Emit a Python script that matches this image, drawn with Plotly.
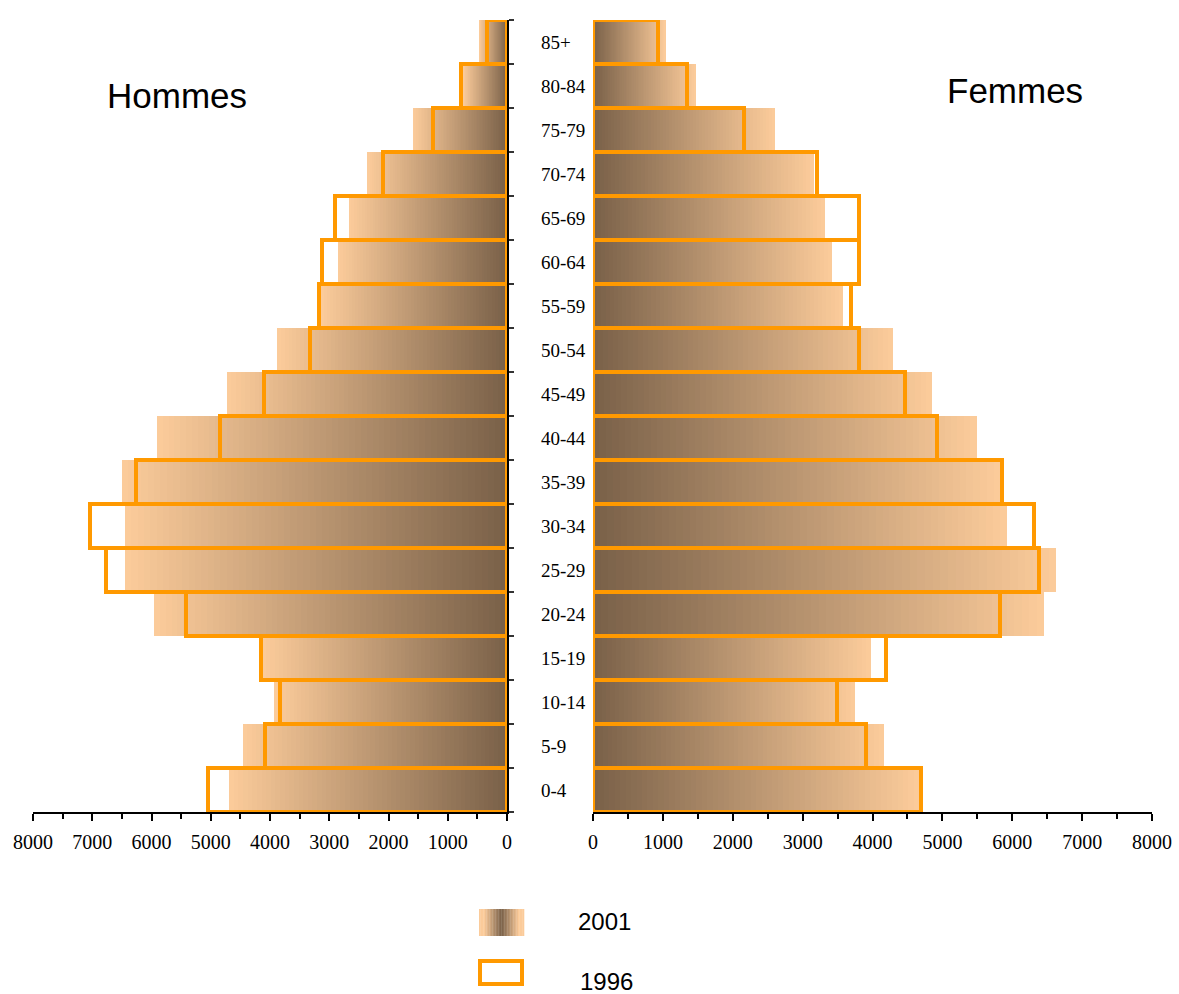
import plotly.graph_objects as go

# ---------------- data ----------------
ages = ["0-4", "5-9", "10-14", "15-19", "20-24", "25-29", "30-34", "35-39", "40-44",
        "45-49", "50-54", "55-59", "60-64", "65-69", "70-74", "75-79", "80-84", "85+"]
hommes_2001 = [4690, 4460, 3930, 4130, 5960, 6450, 6450, 6500, 5910,
               4730, 3880, 3140, 2860, 2670, 2360, 1590, 740, 470]
hommes_1996 = [5040, 4090, 3830, 4160, 5420, 6760, 7030, 6270, 4850,
               4100, 3330, 3170, 3130, 2900, 2100, 1250, 770, 340]
femmes_2001 = [4670, 4160, 3750, 3980, 6460, 6630, 5920, 5830, 5490,
               4850, 4290, 3580, 3420, 3320, 3160, 2600, 1470, 1040]
femmes_1996 = [4700, 3910, 3490, 4200, 5830, 6380, 6310, 5860, 4920,
               4460, 3810, 3690, 3810, 3810, 3200, 2160, 1350, 935]
tick_values = [0, 1000, 2000, 3000, 4000, 5000, 6000, 7000, 8000]
tick_labels = ["0", "1000", "2000", "3000", "4000", "5000", "6000", "7000", "8000"]
series_names = ["2001", "1996"]
panel_titles = ["Hommes", "Femmes"]

# ---------------- style ----------------
W, H = 1179, 994
PEACH = (251, 203, 154)
BROWN = (122, 97, 73)
ORANGE = "#FF9900"
SERIF = "Liberation Serif, Times New Roman, serif"
SANS = "Liberation Sans, Arial, sans-serif"
N_GRAD = 60


def mix(t):
    c = [round(PEACH[i] + (BROWN[i] - PEACH[i]) * t) for i in range(3)]
    return "rgb(%d,%d,%d)" % tuple(c)


ypos = list(range(len(ages)))
fig = go.Figure()

# gradient-filled 2001 bars: nested bars, longest = light, shortest = dark
for values, xa, ya in [(hommes_2001, "x", "y"), (femmes_2001, "x2", "y2")]:
    for k in range(N_GRAD):
        f = (N_GRAD - k) / N_GRAD
        fig.add_trace(go.Bar(
            x=[v * f for v in values], y=ypos, orientation="h",
            marker=dict(color=mix(k / (N_GRAD - 1)), line=dict(width=0)),
            xaxis=xa, yaxis=ya, showlegend=False, hoverinfo="skip"))

# 1996 outlined bars
for values, xa, ya in [(hommes_1996, "x", "y"), (femmes_1996, "x2", "y2")]:
    fig.add_trace(go.Bar(
        x=values, y=ypos, orientation="h",
        marker=dict(color="rgba(0,0,0,0)", line=dict(color=ORANGE, width=4)),
        xaxis=xa, yaxis=ya, showlegend=False, name="1996"))

ydom = [(H - 812) / H, (H - 20) / H]
xcommon = dict(showline=True, linecolor="black", linewidth=2,
               ticks="outside", ticklen=7, tickwidth=2, tickcolor="black",
               tickmode="array", tickvals=tick_values, ticktext=tick_labels,
               minor=dict(ticks="outside", dtick=500, tick0=0, ticklen=5,
                          tickwidth=2, tickcolor="black"),
               showgrid=False, zeroline=False, automargin=False,
               ticklabelstandoff=4,
               tickfont=dict(family=SERIF, size=20, color="black"))

fig.update_layout(
    width=W, height=H,
    margin=dict(l=0, r=0, t=0, b=0, autoexpand=False),
    paper_bgcolor="white", plot_bgcolor="white",
    barmode="overlay", bargap=0,
    showlegend=False,
    xaxis=dict(domain=[33 / W, 507 / W], range=[8000, 0], anchor="y", **xcommon),
    yaxis=dict(domain=ydom, range=[-0.5, len(ages) - 0.5], anchor="x", side="right",
               showline=True, linecolor="black", linewidth=2,
               ticks="outside", ticklen=5, tickwidth=2, tickcolor="#333",
               tickmode="array", tickvals=[i - 0.5 for i in range(len(ages) + 1)],
               showticklabels=False, showgrid=False, zeroline=False, automargin=False),
    xaxis2=dict(domain=[593 / W, 1152 / W], range=[0, 8000], anchor="y2", **xcommon),
    yaxis2=dict(domain=ydom, range=[-0.5, len(ages) - 0.5], anchor="x2",
                visible=False, showgrid=False, zeroline=False, automargin=False),
)

annotations = []
for i, a in enumerate(ages):
    annotations.append(dict(x=539 / W, xref="paper", y=i, yref="y", text=a,
                            showarrow=False, xanchor="left", yanchor="middle",
                            font=dict(family=SERIF, size=19, color="black")))
annotations.append(dict(x=105 / W, y=1 - 95 / H, xref="paper", yref="paper",
                        text=panel_titles[0], showarrow=False, xanchor="left",
                        yanchor="middle", font=dict(family=SANS, size=35, color="black")))
annotations.append(dict(x=945 / W, y=1 - 91 / H, xref="paper", yref="paper",
                        text=panel_titles[1], showarrow=False, xanchor="left",
                        yanchor="middle", font=dict(family=SANS, size=35, color="black")))
annotations.append(dict(x=576 / W, y=1 - 921 / H, xref="paper", yref="paper",
                        text=series_names[0], showarrow=False, xanchor="left",
                        yanchor="middle", font=dict(family=SANS, size=24, color="black")))
annotations.append(dict(x=578 / W, y=1 - 981 / H, xref="paper", yref="paper",
                        text=series_names[1], showarrow=False, xanchor="left",
                        yanchor="middle", font=dict(family=SANS, size=24, color="black")))

# legend swatches
shapes = []
sx0, sx1, sy0, sy1 = 479, 524, 909, 936
n_strip = 30
for j in range(n_strip):
    xa0 = sx0 + (sx1 - sx0) * j / n_strip
    xa1 = sx0 + (sx1 - sx0) * (j + 1) / n_strip
    centre = (j + 0.5) / n_strip
    t = max(0.0, 1 - abs(centre - 0.5) * 2.6)
    shapes.append(dict(type="rect", xref="paper", yref="paper",
                       x0=xa0 / W, x1=(xa1 + 0.3) / W, y0=1 - sy1 / H, y1=1 - sy0 / H,
                       fillcolor=mix(t), line=dict(width=0), layer="above"))
shapes.append(dict(type="rect", xref="paper", yref="paper",
                   x0=480 / W, x1=522 / W, y0=1 - 984 / H, y1=1 - 961 / H,
                   fillcolor="rgba(0,0,0,0)", line=dict(color=ORANGE, width=4)))

fig.update_layout(annotations=annotations, shapes=shapes)

fig.write_html("out.html", config={"displayModeBar": False},
               post_script="document.body.style.margin='0';")
